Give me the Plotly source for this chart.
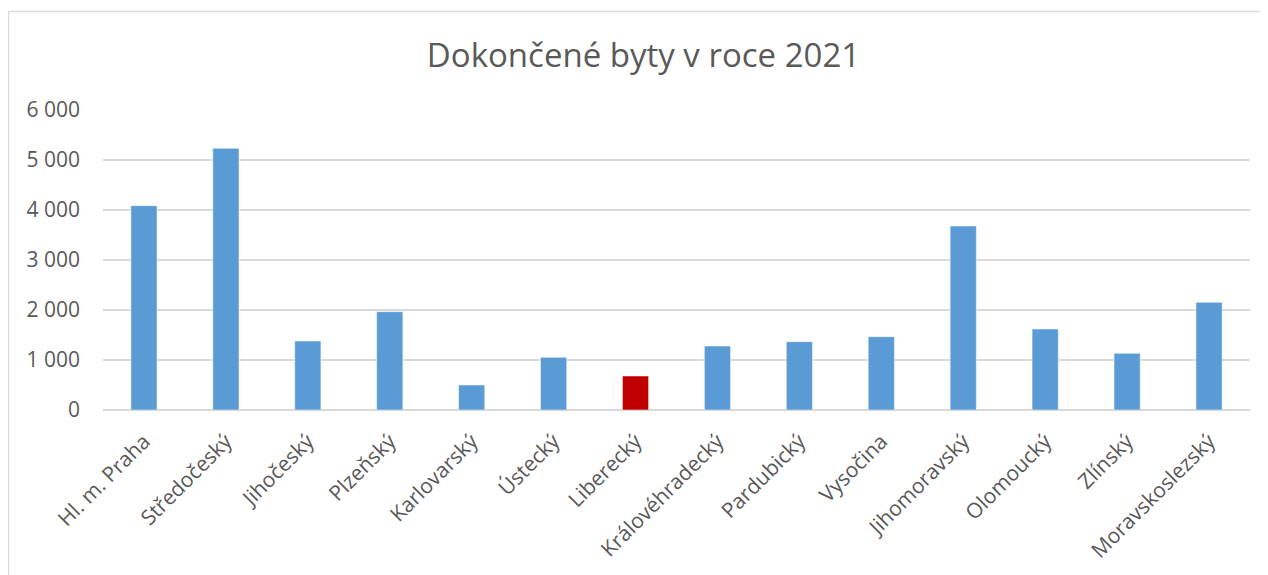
import plotly.graph_objects as go

regions = ["Hl. m. Praha", "Středočeský", "Jihočeský", "Plzeňský", "Karlovarský",
           "Ústecký", "Liberecký", "Královéhradecký", "Pardubický", "Vysočina",
           "Jihomoravský", "Olomoucký", "Zlínský", "Moravskoslezský"]
completed = [4087, 5233, 1380, 1967, 500, 1053, 680, 1280, 1367, 1467, 3680, 1620, 1133, 2153]
highlight = "Liberecký"

tick_vals = [0, 1000, 2000, 3000, 4000, 5000, 6000]
tick_text = ["0", "1 000", "2 000", "3 000", "4 000", "5 000", "6 000"]

colors = ["#C00000" if r == highlight else "#5B9BD5" for r in regions]

# page body has an 8px margin; figure is sized so the picture lines up
OFF = 8
W, H = 1260, 567
ml, mt = 103 - OFF, 110 - OFF
mr = W - (1250 - OFF)
mb = H - (410 - OFF)
pw, ph = W - ml - mr, H - mt - mb

fig = go.Figure(go.Bar(
    x=regions, y=completed,
    marker=dict(color=colors, line=dict(color="rgba(255,255,255,0.5)", width=1)),
))

fig.update_layout(
    width=W, height=H,
    margin=dict(l=ml, r=mr, t=mt, b=mb),
    paper_bgcolor="white", plot_bgcolor="white",
    bargap=0.68,
    showlegend=False,
    font=dict(family="Open Sans", color="#595959", size=20),
    title=dict(text="Dokončené byty v roce 2021",
               x=(643.5 - OFF) / W, xref="container", xanchor="center",
               y=1 - (55 - OFF) / H, yanchor="middle", yref="container",
               font=dict(size=33, color="#595959", family="Open Sans")),
    xaxis=dict(tickangle=-45, showgrid=False, showline=False, ticks="",
               ticklabelstandoff=14,
               tickfont=dict(size=21, color="#595959")),
    yaxis=dict(range=[0, 6000], tickvals=tick_vals, ticktext=tick_text,
               showgrid=True, gridcolor="#D9D9D9", gridwidth=1.5,
               zeroline=True, zerolinecolor="#D9D9D9", zerolinewidth=1.5,
               showline=False, ticks="", ticklen=0,
               ticklabelstandoff=22,
               tickfont=dict(size=21, color="#595959")),
)

# chart frame (left and top edges visible)
x_left = (8.5 - OFF - ml) / pw
y_top = 1 + (mt - (11.5 - OFF)) / ph
fig.add_shape(type="line", xref="paper", yref="paper", x0=x_left, x1=x_left,
              y0=y_top, y1=-(mb + 10) / ph, line=dict(color="#D9D9D9", width=1.5))
fig.add_shape(type="line", xref="paper", yref="paper", x0=x_left, x1=1 + (mr + 10) / pw,
              y0=y_top, y1=y_top, line=dict(color="#D9D9D9", width=1.5))

fig.write_html("out.html")
